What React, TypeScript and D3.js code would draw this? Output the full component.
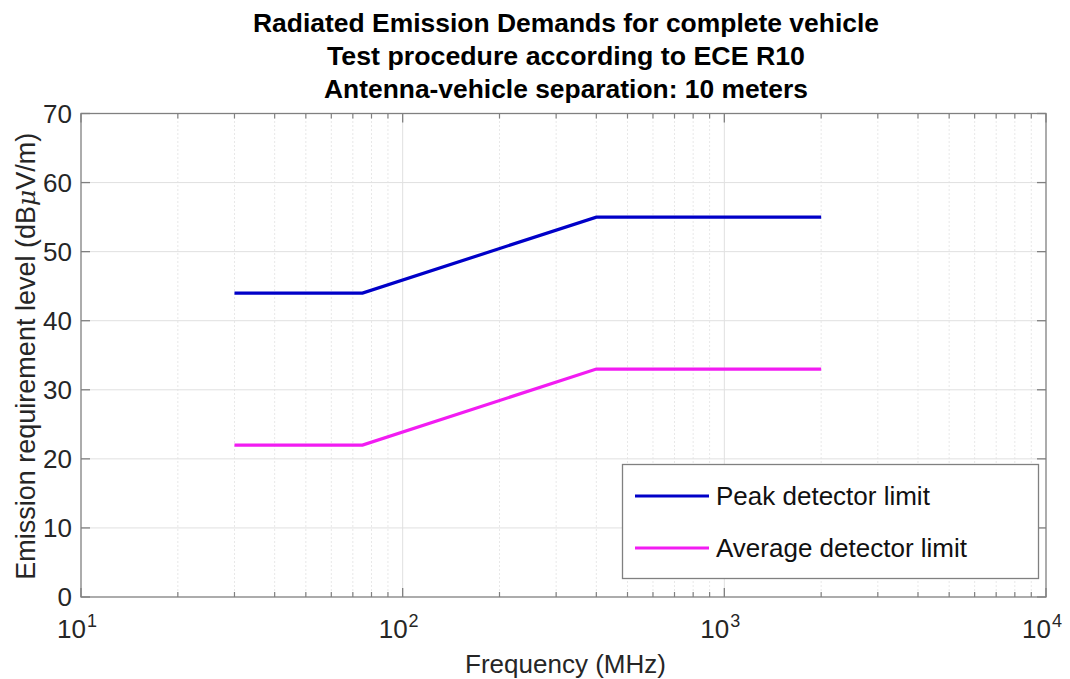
import React from "react";
import * as d3 from "d3";

const freqs = [30, 75, 400, 2000];
const peakLimit = [44, 44, 55, 55];
const avgLimit = [22, 22, 33, 33];
const yTicks = [0, 10, 20, 30, 40, 50, 60, 70];
const xMajor = [10, 100, 1000, 10000];
const xMajorExp = ["1", "2", "3", "4"];
const titleLines = [
  "Radiated Emission Demands for complete vehicle",
  "Test procedure according to ECE R10",
  "Antenna-vehicle separation: 10 meters",
];
const titleWidths = [626, 478, 484];
const legendLabels = ["Peak detector limit", "Average detector limit"];
const colors = ["#0000c8", "#f21cf2"];

const W = 1070;
const H = 679;
const L = 81, R = 1046, T = 113.5, B = 597;
const FONT = "'Liberation Sans', Arial, Helvetica, sans-serif";

export default function App() {
  const x = d3.scaleLog().domain([10, 10000]).range([L, R]);
  const y = d3.scaleLinear().domain([0, 70]).range([B, T]);
  const minors: number[] = [];
  [10, 100, 1000].forEach((d) => {
    for (let k = 2; k <= 9; k++) minors.push(d * k);
  });
  const line = d3
    .line<[number, number]>()
    .x((d) => x(d[0]))
    .y((d) => y(d[1]));
  const series = [peakLimit, avgLimit].map((vals) =>
    freqs.map((f, i) => [f, vals[i]] as [number, number])
  );
  const axisCol = "#808080";
  const textCol = "#262626";

  return (
    <svg
      width={W}
      height={H}
      style={{ position: "absolute", left: 0, top: 0, background: "#fff" }}
      fontFamily={FONT}
    >
      <rect x={0} y={0} width={W} height={H} fill="#fff" />
      {/* minor grid */}
      {minors.map((m) => (
        <line
          key={"mg" + m}
          x1={x(m)}
          x2={x(m)}
          y1={T}
          y2={B}
          stroke="#d0d0d0"
          strokeWidth={1}
          strokeDasharray="1,3"
        />
      ))}
      {/* major grid */}
      {xMajor.slice(1, 3).map((m) => (
        <line key={"Mg" + m} x1={x(m)} x2={x(m)} y1={T} y2={B} stroke="#e0e0e0" strokeWidth={1} />
      ))}
      {yTicks.slice(1, -1).map((v) => (
        <line key={"yg" + v} x1={L} x2={R} y1={y(v)} y2={y(v)} stroke="#e0e0e0" strokeWidth={1} />
      ))}
      {/* axis box */}
      <rect x={L} y={T} width={R - L} height={B - T} fill="none" stroke={axisCol} strokeWidth={1.3} />
      {/* x ticks */}
      {xMajor.map((m) => (
        <g key={"xt" + m}>
          <line x1={x(m)} x2={x(m)} y1={B} y2={B - 9} stroke={axisCol} strokeWidth={1.3} />
          <line x1={x(m)} x2={x(m)} y1={T} y2={T + 9} stroke={axisCol} strokeWidth={1.3} />
        </g>
      ))}
      {minors.map((m) => (
        <g key={"xm" + m}>
          <line x1={x(m)} x2={x(m)} y1={B} y2={B - 5} stroke={axisCol} strokeWidth={1.2} />
          <line x1={x(m)} x2={x(m)} y1={T} y2={T + 5} stroke={axisCol} strokeWidth={1.2} />
        </g>
      ))}
      {/* y ticks */}
      {yTicks.map((v) => (
        <g key={"yt" + v}>
          <line x1={L} x2={L + 9} y1={y(v)} y2={y(v)} stroke={axisCol} strokeWidth={1.3} />
          <line x1={R} x2={R - 9} y1={y(v)} y2={y(v)} stroke={axisCol} strokeWidth={1.3} />
          <text x={L - 9} y={y(v) + 9} textAnchor="end" fontSize={26} fill={textCol}>
            {v}
          </text>
        </g>
      ))}
      {/* x tick labels */}
      {xMajor.map((m, i) => (
        <text key={"xl" + m} x={x(m) - 4} y={638} textAnchor="middle" fontSize={26} fill={textCol}>
          10
          <tspan dx={1} dy={-11} fontSize={18}>
            {xMajorExp[i]}
          </tspan>
        </text>
      ))}
      {/* axis labels */}
      <text x={(L + R) / 2 + 2} y={673} textAnchor="middle" fontSize={26} fill={textCol}>
        Frequency (MHz)
      </text>
      <text
        transform={`translate(35, ${(T + B) / 2 + 1}) rotate(-90)`}
        textAnchor="middle"
        fontSize={27}
        fill={textCol}
      >
        Emission requirement level (dB
        <tspan fontStyle="italic" fontFamily="'DejaVu Serif', serif" fontSize={25}>μ</tspan>
        V/m)
      </text>
      {/* series */}
      {series.map((s, i) => (
        <path key={"s" + i} d={line(s) || ""} fill="none" stroke={colors[i]} strokeWidth={3.2} />
      ))}
      {/* title */}
      {titleLines.map((t, i) => (
        <text
          key={"t" + i}
          x={566}
          y={32 + i * 33}
          textAnchor="middle"
          fontSize={26}
          fontWeight="bold"
          fill="#000"
          textLength={titleWidths[i]}
          lengthAdjust="spacingAndGlyphs"
        >
          {t}
        </text>
      ))}
      {/* legend */}
      <rect x={622.5} y={464.5} width={416} height={114} fill="#fff" stroke={axisCol} strokeWidth={1.3} />
      {legendLabels.map((lab, i) => (
        <g key={"lg" + i}>
          <line x1={635} x2={709} y1={496 + i * 52} y2={496 + i * 52} stroke={colors[i]} strokeWidth={3.2} />
          <text x={716} y={505 + i * 52} fontSize={26} fill="#111">
            {lab}
          </text>
        </g>
      ))}
    </svg>
  );
}
